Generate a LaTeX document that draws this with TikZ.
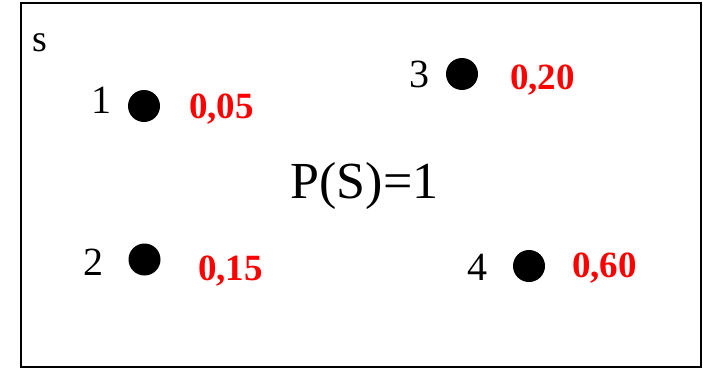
\documentclass[tikz,border=0pt]{standalone}
\usepackage{fontspec}
\setmainfont{Liberation Serif}
\begin{document}
\begin{tikzpicture}[x=1pt,y=-1pt,
  lbl/.style={inner sep=0pt,anchor=base,font=\fontsize{40}{40}\selectfont},
  prob/.style={inner sep=0pt,anchor=base,text=red,font=\fontsize{37}{37}\selectfont\bfseries},
  pt/.style={circle,fill=black,inner sep=0pt,minimum size=32pt}]
\useasboundingbox (0,0) rectangle (703,369);
\node[draw,line width=2pt,minimum width=680pt,minimum height=364pt,inner sep=0pt] (frame) at (361,185) {};
\node[inner sep=0pt,anchor=base,font=\fontsize{38}{38}\selectfont] (s) at (40,52) {s};
\node[pt] (d1) at (144,106) {};
\node[pt] (d2) at (144.5,259.5) {};
\node[pt] (d3) at (462,74) {};
\node[pt] (d4) at (529,266) {};
\node[lbl] (l1) at (101.5,113) {1};
\node[lbl] (l2) at (93,275) {2};
\node[lbl] (l3) at (419,87) {3};
\node[lbl] (l4) at (477,280) {4};
\node[prob] (p1) at (221.5,118) {0,05};
\node[prob] (p2) at (230.5,280) {0,15};
\node[prob] (p3) at (542.5,89) {0,20};
\node[prob] (p4) at (604.5,277) {0,60};
\node[inner sep=0pt,anchor=base,font=\fontsize{52}{52}\selectfont] (ps) at (364.5,198) {P(S)=1};
\end{tikzpicture}
\end{document}
